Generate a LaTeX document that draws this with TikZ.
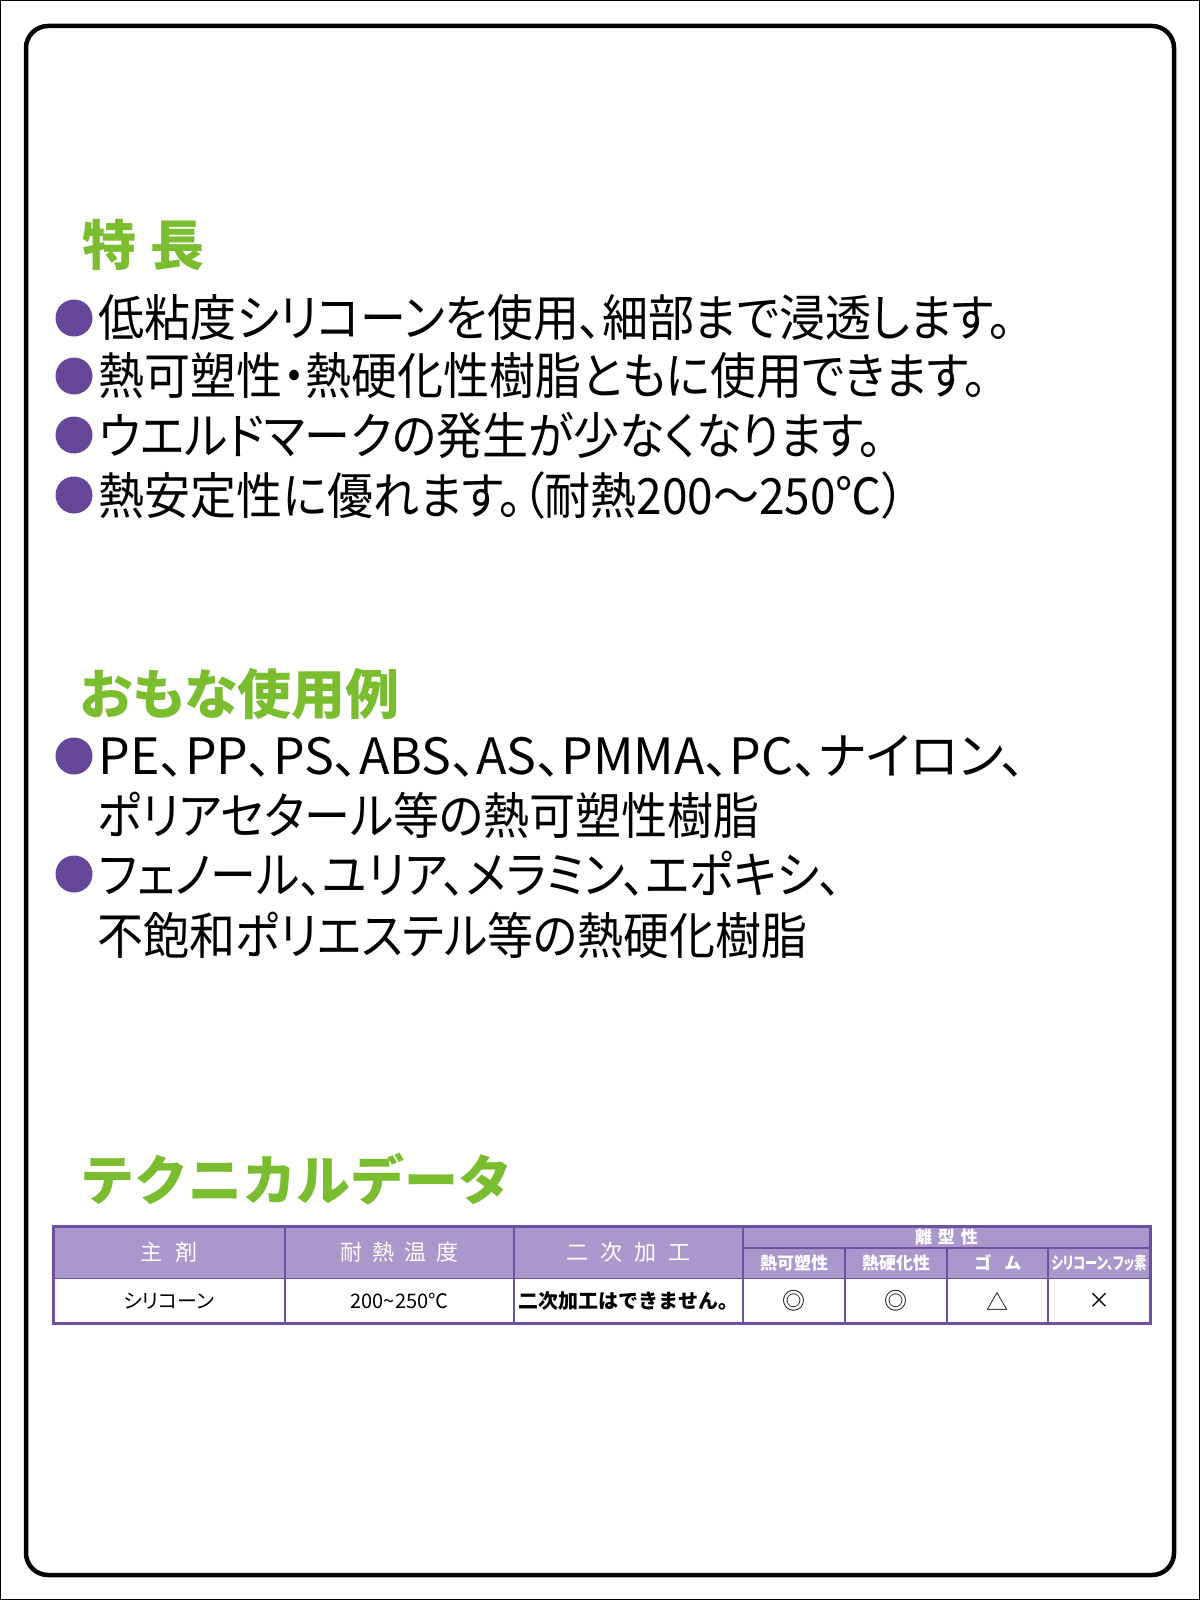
\documentclass[tikz,border=0pt]{standalone}
\usepackage{fontspec}
\usepackage{graphicx}
\usepackage{tikz}
\usetikzlibrary{positioning}
\newfontfamily\jpfont[RawFeature=+palt]{Noto Sans CJK JP}
\newfontfamily\jpnarrow[RawFeature=+palt, FakeStretch=0.92]{Noto Sans CJK JP}
\newfontfamily\jpplain{Noto Sans CJK JP}
\definecolor{headgreen}{RGB}{122,190,48}
\definecolor{dotpurple}{RGB}{102,70,152}
\definecolor{headfill}{RGB}{170,152,204}
\definecolor{tableline}{RGB}{110,80,160}
\tikzstyle{heading} = [anchor=west, inner sep=0pt, text=headgreen, font=\jpfont\bfseries\fontsize{54}{60}\selectfont]
\tikzstyle{bullet}  = [circle, fill=dotpurple, minimum size=37pt, inner sep=0pt]
\tikzstyle{item}    = [anchor=west, inner sep=0pt, font=\jpnarrow\fontsize{50}{60}\selectfont]
\tikzstyle{headcell} = [text=white, inner sep=0pt, font=\jpfont\fontsize{22}{24}\selectfont]
\tikzstyle{subcell}  = [text=white, inner sep=0pt, font=\jpfont\bfseries\fontsize{17}{20}\selectfont]
\tikzstyle{datacell} = [inner sep=0pt, font=\jpfont\fontsize{20}{24}\selectfont]
\tikzstyle{grid}     = [draw=tableline, line width=2pt]

\begin{document}
\begin{tikzpicture}[x=1pt, y=-1pt]
	\useasboundingbox (0,0) rectangle (1200,1600);
	% frame
	\draw [line width=1pt] (0.5,0.5) rectangle (1199.5,1599.5);
	\draw [line width=4.5pt, rounded corners=22pt] (26,26) rectangle (1174,1575);

	% title nodes
	\node [heading] (H1) at (82,245)  {特\hspace{14pt}長};
	\node [heading] (H2) at (80,694)  {おもな使用例};
	\node [heading, font=\jpplain\bfseries\fontsize{54}{60}\selectfont] (H3) at (80,1179) {テクニカルデータ};

	% place bullets
	\node [bullet] (B1) at (74,318) {};
	\node [bullet] (B2) at (74,376) {};
	\node [bullet] (B3) at (74,435) {};
	\node [bullet] (B4) at (74,495) {};
	\node [bullet] (B5) at (74,756) {};
	\node [bullet] (B6) at (74,874) {};

	% place lines
	\node [item, right=6pt of B1] (T1) {低粘度シリコーンを使用、細部まで浸透します。};
	\node [item, right=6pt of B2] (T2) {熱可塑性・熱硬化性樹脂ともに使用できます。};
	\node [item, right=6pt of B3] (T3) {ウエルドマークの発生が少なくなります。};
	\node [item, right=6pt of B4] (T4) {熱安定性に優れます。（耐熱200〜250℃）};
	\node [item, right=6pt of B5, font=\jpfont\fontsize{50}{60}\selectfont] (T5) {PE、PP、PS、ABS、AS、PMMA、PC、ナイロン、};
	\node [item] (T6) at (97,815) {ポリアセタール等の熱可塑性樹脂};
	\node [item, right=6pt of B6] (T7) {フェノール、ユリア、メラミン、エポキシ、};
	\node [item] (T8) at (97,935) {不飽和ポリエステル等の熱硬化樹脂};

	% table
	\fill [headfill] (53,1226) rectangle (1150,1278);
	\draw [tableline, line width=1pt] (53,1278) -- (1150,1278);
	\draw [grid] (743,1248) -- (1150,1248);
	\foreach \x in {285,514,743} \draw [grid] (\x,1226) -- (\x,1323);
	\foreach \x in {845,947,1048} \draw [grid] (\x,1248) -- (\x,1323);
	\draw [draw=tableline, line width=3pt] (53,1226) rectangle (1150,1323);

	% header cells
	\node [headcell] (C1) at (169,1252) {主\hspace{13pt}剤};
	\node [headcell] (C2) at (399.5,1252) {耐\hspace{10pt}熱\hspace{10pt}温\hspace{10pt}度};
	\node [headcell] (C3) at (628.5,1252) {二\hspace{12pt}次\hspace{12pt}加\hspace{12pt}工};
	\node [subcell] (C4) at (946.5,1237) {離\hspace{6pt}型\hspace{6pt}性};
	\node [subcell] (C5) at (794,1263) {熱可塑性};
	\node [subcell] (C6) at (896,1263) {熱硬化性};
	\node [subcell] (C7) at (997.5,1263) {ゴ\hspace{14pt}ム};
	\node [subcell] (C8) at (1099,1263) {\scalebox{0.72}[1]{シリコーン、フッ素}};

	% data cells
	\node [datacell] (D1) at (169,1301) {シリコーン};
	\node [datacell] (D2) at (399.5,1301) {200\textasciitilde 250℃};
	\node [datacell, font=\jpplain\bfseries\fontsize{20}{24}\selectfont] (D3) at (628.5,1301) {二次加工はできません。};
	\node [datacell, font=\jpplain\fontsize{23}{24}\selectfont] (D4) at (794,1301) {◎};
	\node [datacell, font=\jpplain\fontsize{23}{24}\selectfont] (D5) at (896,1301) {◎};
	\node [datacell, font=\jpplain\fontsize{22}{24}\selectfont] (D6) at (997.5,1301) {△};
	\node [datacell, font=\jpplain\fontsize{22}{24}\selectfont] (D7) at (1099,1301) {×};
\end{tikzpicture}
\end{document}
